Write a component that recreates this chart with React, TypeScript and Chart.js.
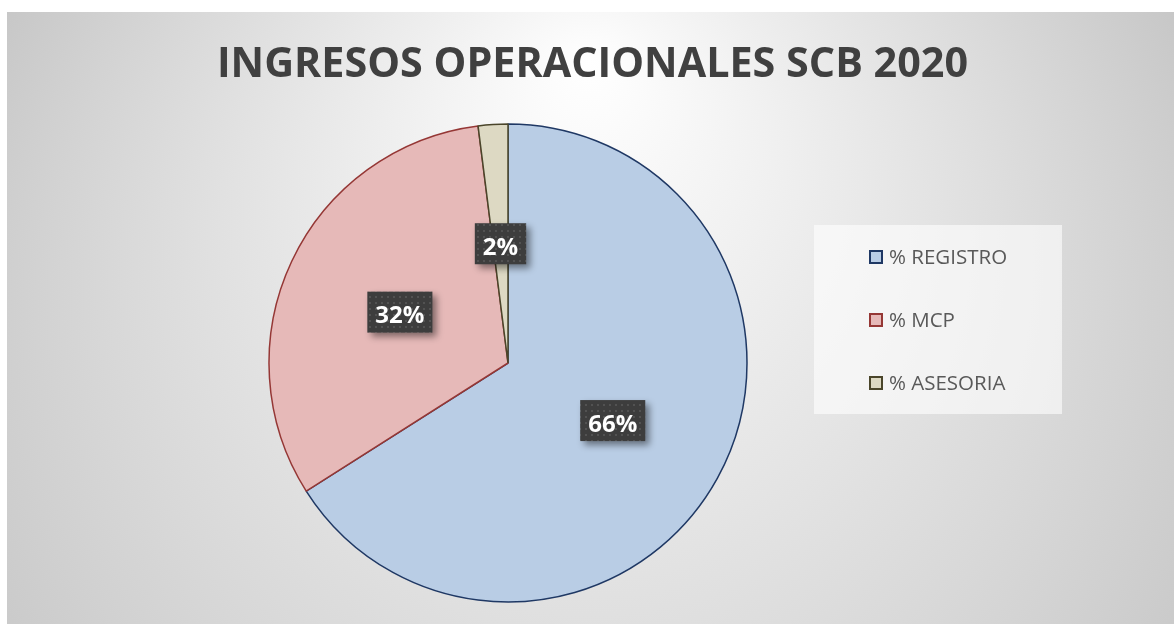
import React, { useEffect, useRef } from "react";
import { Chart, registerables } from "chart.js";

Chart.register(...registerables);

const TITLE = "INGRESOS OPERACIONALES SCB 2020";
const categories = ["% REGISTRO", "% MCP", "% ASESORIA"];
const values = [66, 32, 2];
const fillColors = ["#b9cde5", "#e6b9b8", "#ddd9c3"];
const borderColors = ["#1f3864", "#953735", "#4a452a"];

const W = 1167;
const H = 612;
const FONT = "'Open Sans', 'DejaVu Sans', sans-serif";

function makePattern(ctx: CanvasRenderingContext2D) {
  const c = document.createElement("canvas");
  c.width = 6;
  c.height = 6;
  const g = c.getContext("2d")!;
  g.fillStyle = "#3d3d3d";
  g.fillRect(0, 0, 6, 6);
  g.fillStyle = "#525252";
  g.fillRect(2, 2, 2, 2);
  return ctx.createPattern(c, "repeat");
}

const backgroundPlugin = {
  id: "bgGradient",
  beforeDraw(chart: any) {
    const ctx = chart.ctx as CanvasRenderingContext2D;
    const g = ctx.createRadialGradient(583, 48, 0, 583, 388, 750);
    g.addColorStop(0, "#ffffff");
    g.addColorStop(1, "#c2c2c2");
    ctx.save();
    ctx.fillStyle = g;
    ctx.fillRect(0, 0, chart.width, chart.height);
    ctx.restore();
  },
};

const titlePlugin = {
  id: "customTitle",
  afterDraw(chart: any) {
    const ctx = chart.ctx as CanvasRenderingContext2D;
    ctx.save();
    ctx.font = `bold 41.3px ${FONT}`;
    ctx.fillStyle = "#404040";
    ctx.textAlign = "center";
    ctx.textBaseline = "alphabetic";
    ctx.fillText(TITLE, chart.width / 2 + 2, 65);
    ctx.restore();
  },
};

const legendPlugin = {
  id: "customLegend",
  afterDraw(chart: any) {
    const ctx = chart.ctx as CanvasRenderingContext2D;
    const labels: string[] = chart.data.labels;
    const ds = chart.data.datasets[0];
    ctx.save();
    ctx.fillStyle = "rgba(255,255,255,0.6)";
    ctx.fillRect(807, 213, 248, 189);
    labels.forEach((lab, i) => {
      const cy = 245 + i * 63;
      ctx.fillStyle = ds.backgroundColor[i];
      ctx.fillRect(863, cy - 6, 12, 12);
      ctx.strokeStyle = ds.borderColor[i];
      ctx.lineWidth = 2;
      ctx.strokeRect(863, cy - 6, 12, 12);
      ctx.font = `20.5px ${FONT}`;
      ctx.fillStyle = "#595959";
      ctx.textAlign = "left";
      ctx.textBaseline = "alphabetic";
      ctx.fillText(lab, 882, cy + 7);
    });
    ctx.restore();
  },
};

const dataLabelPlugin = {
  id: "boxLabels",
  afterDatasetsDraw(chart: any) {
    const ctx = chart.ctx as CanvasRenderingContext2D;
    const meta = chart.getDatasetMeta(0);
    const data = chart.data.datasets[0].data as number[];
    const pattern = makePattern(ctx);
    meta.data.forEach((arc: any, i: number) => {
      const { x, y } = arc.getCenterPoint();
      const text = `${data[i]}%`;
      ctx.save();
      ctx.font = `bold 24px ${FONT}`;
      const tw = ctx.measureText(text).width;
      const bw = tw + 16;
      const bh = 41;
      const bx = x - bw / 2;
      const by = y - bh / 2;
      ctx.shadowColor = "rgba(0,0,0,0.45)";
      ctx.shadowBlur = 7;
      ctx.shadowOffsetX = 4;
      ctx.shadowOffsetY = 4;
      ctx.fillStyle = pattern || "#404040";
      ctx.fillRect(bx, by, bw, bh);
      ctx.shadowColor = "transparent";
      ctx.fillStyle = "#ffffff";
      ctx.textAlign = "center";
      ctx.textBaseline = "alphabetic";
      ctx.fillText(text, x, y + 11);
      ctx.restore();
    });
  },
};

export default function App() {
  const ref = useRef<HTMLCanvasElement | null>(null);

  useEffect(() => {
    if (!ref.current) return;
    const chart = new Chart(ref.current, {
      type: "pie",
      data: {
        labels: categories,
        datasets: [
          {
            data: values,
            backgroundColor: fillColors,
            borderColor: borderColors,
            borderWidth: 1.5,
          },
        ],
      },
      options: {
        responsive: false,
        animation: false,
        devicePixelRatio: 1,
        radius: 239,
        layout: { padding: { left: 261, right: 426, top: 111, bottom: 21 } },
        plugins: {
          legend: { display: false },
          tooltip: { enabled: false },
          title: { display: false },
        },
      } as any,
      plugins: [backgroundPlugin, titlePlugin, legendPlugin, dataLabelPlugin],
    });
    return () => chart.destroy();
  }, []);

  return (
    <div
      style={{
        position: "absolute",
        left: 0,
        top: 0,
        width: 1174,
        height: 624,
        background: "#ffffff",
        overflow: "hidden",
      }}
    >
      <canvas
        ref={ref}
        width={W}
        height={H}
        style={{ position: "absolute", left: 7, top: 12, width: W, height: H }}
      />
    </div>
  );
}
